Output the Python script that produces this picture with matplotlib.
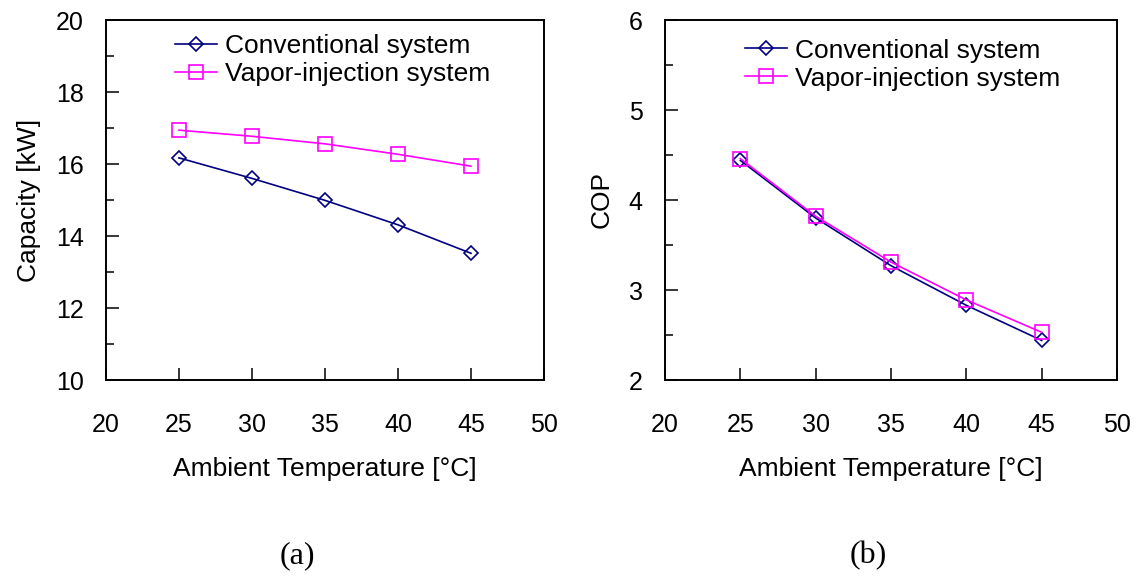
import matplotlib.pyplot as plt

# Ambient temperature points (deg C)
temps = [25, 30, 35, 40, 45]

# (a) capacity [kW]
cap_conventional = [16.17, 15.6, 14.99, 14.31, 13.52]
cap_vapor = [16.94, 16.77, 16.56, 16.27, 15.94]

# (b) COP
cop_conventional = [4.44, 3.80, 3.27, 2.83, 2.44]
cop_vapor = [4.46, 3.82, 3.31, 2.89, 2.53]

label_conv = 'Conventional system'
label_vapor = 'Vapor-injection system'

plt.rcParams['font.family'] = ['Liberation Sans', 'DejaVu Sans']

fig = plt.figure(figsize=(11.44, 5.8), dpi=100)
ax1 = fig.add_axes([106 / 1144, 1 - 380 / 580, 438 / 1144, 360 / 580])
ax2 = fig.add_axes([665 / 1144, 1 - 380 / 580, 452 / 1144, 360 / 580])


def draw_panel(ax, y_conv, y_vapor, ylim, ymajor, yminor, ylabel, legend_x, legend_y):
    ax.plot(temps, y_conv, color='#000080', marker='D', markersize=7,
            markerfacecolor='none', markeredgewidth=1.2, linewidth=1.2,
            label=label_conv)
    ax.plot(temps, y_vapor, color='#ff00ff', marker='s', markersize=9.5,
            markerfacecolor='none', markeredgewidth=1.2, linewidth=1.2,
            label=label_vapor)
    ax.set_xlim(20, 50)
    ax.set_ylim(*ylim)
    ax.set_xticks([20, 25, 30, 35, 40, 45, 50])
    ax.set_yticks(ymajor)
    ax.set_yticks(yminor, minor=True)
    ax.tick_params(axis='x', direction='in', length=9, width=1.1,
                   labelsize=18, pad=24)
    ax.tick_params(axis='y', which='major', direction='in', length=9,
                   width=1.1, labelsize=18, pad=16)
    ax.tick_params(axis='y', which='minor', direction='in', length=6,
                   width=1.1)
    for s in ax.spines.values():
        s.set_linewidth(1.4)
    ax.set_xlabel('Ambient Temperature [°C]', fontsize=19, labelpad=14)
    ax.set_ylabel(ylabel, fontsize=19, labelpad=11)
    ax.legend(loc='upper left', bbox_to_anchor=(legend_x, legend_y),
              frameon=False, fontsize=19, handlelength=1.6,
              handletextpad=0.3, labelspacing=0.15, borderaxespad=0,
              borderpad=0)


draw_panel(ax1, cap_conventional, cap_vapor, (10, 20),
           [10, 12, 14, 16, 18, 20], [11, 13, 15, 17, 19],
           'Capacity [kW]', 0.157, 0.96)
draw_panel(ax2, cop_conventional, cop_vapor, (2, 6),
           [2, 3, 4, 5, 6], [2.5, 3.5, 4.5, 5.5], 'COP', 0.177, 0.948)

fig.text(297 / 1144, 1 - 556 / 580, '(a)', ha='center', va='center',
         fontsize=23, family=['Liberation Serif', 'DejaVu Serif'])
fig.text(868 / 1144, 1 - 556 / 580, '(b)', ha='center', va='center',
         fontsize=23, family=['Liberation Serif', 'DejaVu Serif'])

fig.savefig('out.png', dpi=100)
